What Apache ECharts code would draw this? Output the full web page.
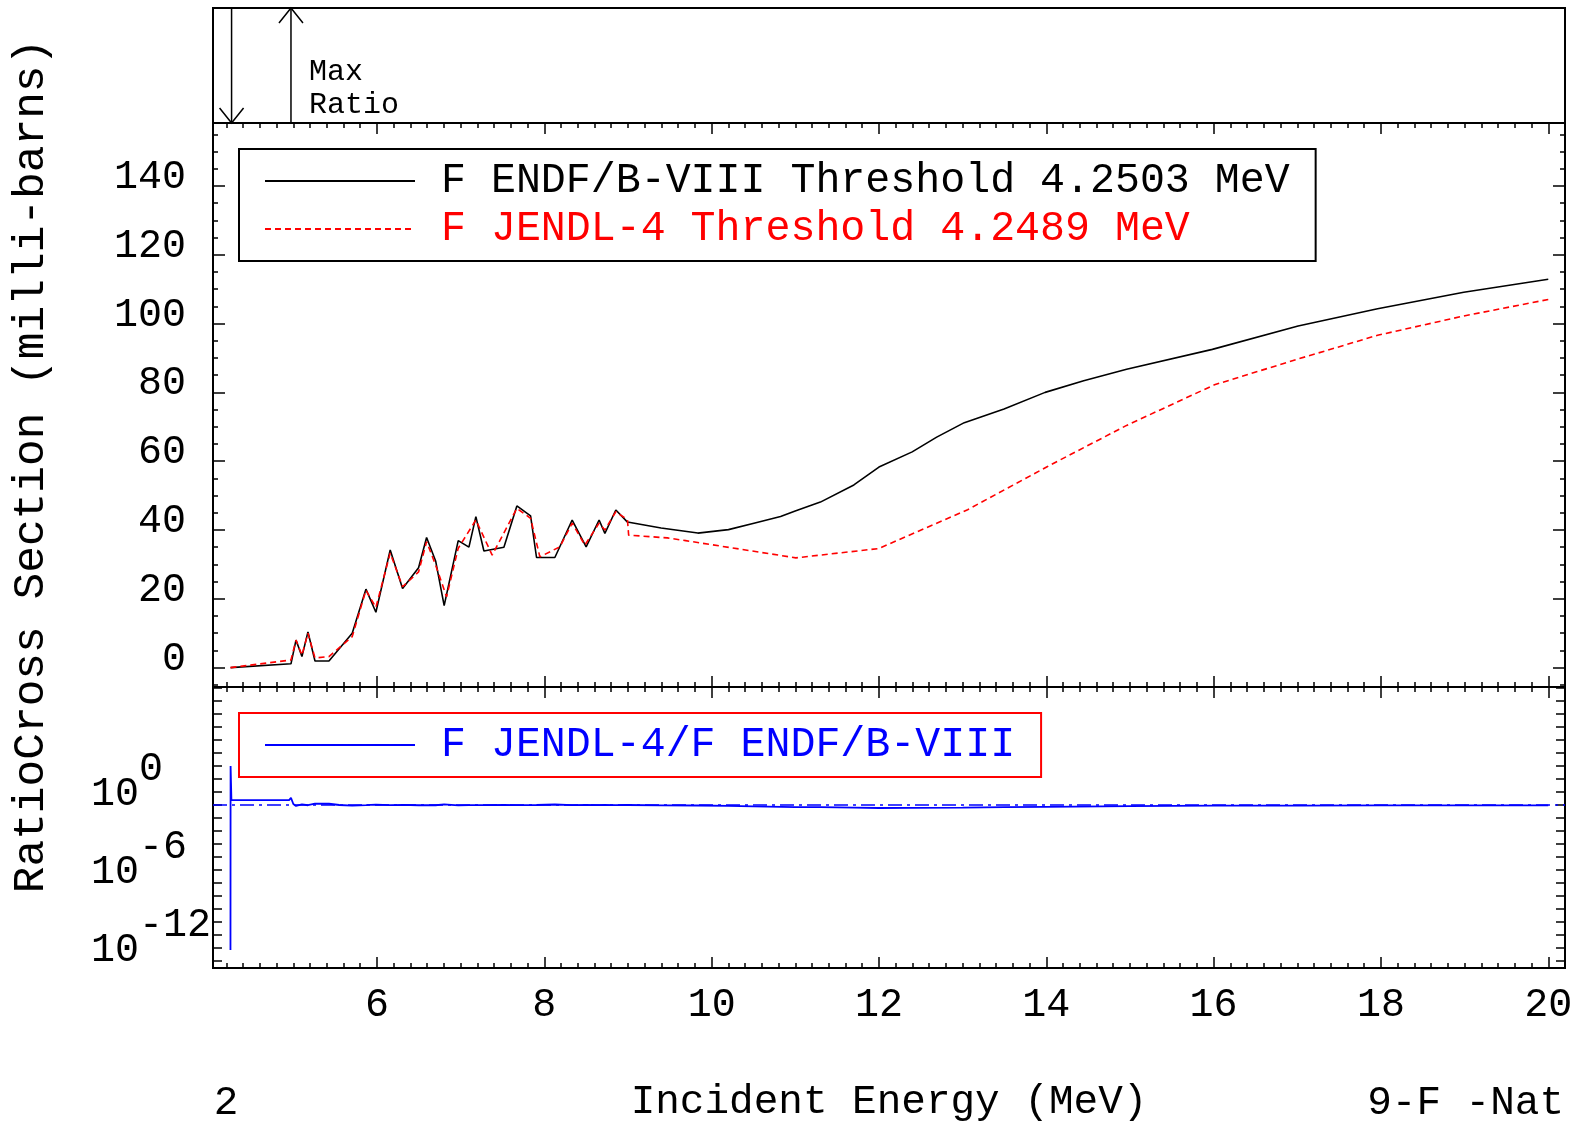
<!DOCTYPE html>
<html><head><meta charset="utf-8">
<script src="https://cdn.jsdelivr.net/npm/echarts@6/dist/echarts.min.js"></script>
<style>html,body{margin:0;padding:0;background:#fff}#c{width:1579px;height:1128px}</style>
</head><body><div id="c"></div>
<script>
// ---- data ----
const endfName = 'F ENDF/B-VIII Threshold 4.2503 MeV';
const jendlName = 'F JENDL-4 Threshold 4.2489 MeV';
const ratioName = 'F JENDL-4/F ENDF/B-VIII';

const endfE = [4.2503, 4.972, 5.032, 5.103, 5.175, 5.259, 5.426, 5.704, 5.868, 5.987, 6.158, 6.306, 6.497, 6.593, 6.701, 6.803, 6.971, 7.099, 7.182, 7.278, 7.517, 7.672, 7.836, 7.907, 8.126, 8.333, 8.5, 8.655, 8.724, 8.855, 8.994, 9.396, 9.835, 10.201, 10.494, 10.824, 11.007, 11.3, 11.7, 12.0, 12.397, 12.69, 13.02, 13.495, 13.986, 14.447, 14.96, 15.985, 17.01, 17.96, 18.99, 20.0];
const endfXS = [0, 1.1, 8.0, 3.2, 10.4, 1.9, 1.9, 10.0, 22.8, 16.1, 34.2, 23.0, 29.0, 37.8, 31.0, 18.0, 36.9, 35.0, 43.9, 33.9, 35.0, 47.0, 44.1, 32.0, 32.0, 42.9, 35.1, 42.9, 39.0, 45.8, 42.3, 40.6, 39.1, 40.1, 41.9, 43.9, 45.6, 48.1, 53.1, 58.3, 62.7, 67.0, 71.2, 75.2, 80.0, 83.4, 86.7, 92.5, 99.3, 104.3, 109.1, 112.9];

const jendlE = [4.2489, 4.972, 5.032, 5.103, 5.175, 5.259, 5.426, 5.704, 5.868, 5.987, 6.158, 6.306, 6.497, 6.593, 6.701, 6.832, 6.971, 7.182, 7.377, 7.672, 7.836, 7.947, 8.186, 8.333, 8.485, 8.655, 8.724, 8.855, 8.994, 9.008, 9.47, 9.69, 11.007, 11.995, 13.06, 14.01, 14.96, 16.01, 17.01, 17.96, 18.99, 20.0];
const jendlXS = [0, 2.2, 8.0, 3.6, 10.0, 2.8, 3.2, 9.0, 22.5, 17.5, 33.3, 23.5, 27.8, 36.6, 29.8, 20.6, 34.7, 42.9, 32.7, 46.3, 43.4, 32.2, 35.1, 42.0, 35.6, 42.0, 40.0, 45.3, 43.0, 38.5, 37.7, 36.9, 31.9, 34.6, 45.9, 58.4, 70.4, 82.2, 89.7, 96.6, 102.2, 107.0];

const ratioE = [4.2489, 4.2503, 4.26, 4.95, 4.972, 5.0, 5.032, 5.103, 5.175, 5.259, 5.426, 5.55, 5.704, 5.868, 5.987, 6.158, 6.306, 6.497, 6.593, 6.701, 6.803, 6.971, 7.099, 7.182, 7.278, 7.517, 7.672, 7.836, 7.907, 8.126, 8.333, 8.5, 8.655, 8.724, 8.855, 8.994, 9.008, 9.4, 9.835, 10.2, 10.5, 11.0, 11.3, 11.7, 12.0, 12.4, 13.0, 13.5, 14.0, 15.0, 16.0, 17.0, 18.0, 19.0, 20.0];
const ratioVal = [7e-12, 1000, 2.4, 2.4, 3.6, 1.2, 0.85, 1.1, 0.96, 1.3, 1.25, 1.0, 0.9, 0.99, 1.09, 0.97, 1.02, 0.96, 0.97, 0.96, 1.14, 0.94, 0.97, 0.98, 0.97, 1.0, 0.98, 0.98, 1.0, 1.1, 0.98, 1.0, 0.98, 1.02, 0.99, 1.0, 0.9, 0.93, 0.92, 0.85, 0.78, 0.7, 0.68, 0.63, 0.59, 0.6, 0.64, 0.68, 0.73, 0.81, 0.89, 0.9, 0.93, 0.94, 0.95];

// Max-ratio panel arrows: energy and direction (-1 down, +1 up)
const arrowE = [4.262, 4.972];
const arrowDir = [-1, 1];

// axis ranges
const xMin = 4.04, xMax = 20.2;
const yMin = -5.64, yMax = 158.3;
const rLogMin = -12.54, rLogMax = 9.08;

// ---- chart ----
const FONT = 'Liberation Mono';
const BLACK = '#000000', RED = '#ff0000', BLUE = '#0000ff';
const pair = (a, b) => a.map((v, i) => [v, b[i]]);

function xAx(grid, pos, labels, extra) {
  return Object.assign({
    type: 'value', gridIndex: grid, position: pos, min: xMin, max: xMax, splitNumber: 8,
    splitLine: { show: false },
    axisLine: { show: true, onZero: false, lineStyle: { color: BLACK, width: 2 } },
    axisTick: { show: true, inside: true, length: 11, lineStyle: { color: BLACK, width: 1.5 } },
    minorTick: { show: true, splitNumber: 10, length: 5, lineStyle: { color: BLACK, width: 1.5 } },
    axisLabel: {
      show: labels, margin: 17, fontSize: 40, color: BLACK, fontFamily: FONT,
      formatter: v => (Math.abs(v / 2 - Math.round(v / 2)) < 1e-9 ? String(Math.round(v)) : '')
    }
  }, extra || {});
}
function yMain(pos, labels) {
  return {
    type: 'value', gridIndex: 1, position: pos, min: yMin, max: yMax, splitNumber: 8,
    splitLine: { show: false },
    axisLine: { show: true, onZero: false, lineStyle: { color: BLACK, width: 2 } },
    axisTick: { show: true, inside: true, length: 12, lineStyle: { color: BLACK, width: 1.5 } },
    minorTick: { show: true, splitNumber: 4, length: 5, lineStyle: { color: BLACK, width: 1.5 } },
    axisLabel: {
      show: labels, margin: 27, color: BLACK, fontFamily: FONT, fontSize: 40,
      formatter: v => (Math.abs(v / 20 - Math.round(v / 20)) < 1e-9 ? '{a|' + Math.round(v) + '}' : ''),
      rich: { a: { fontFamily: FONT, fontSize: 40, color: BLACK, padding: [0, 0, 17, 0] } }
    }
  };
}
function yRatio(pos, labels) {
  return {
    type: 'value', gridIndex: 2, position: pos, min: rLogMin, max: rLogMax, splitNumber: 22,
    splitLine: { show: false },
    axisLine: { show: true, onZero: false, lineStyle: { color: BLACK, width: 2 } },
    axisTick: { show: true, inside: true, length: 9, lineStyle: { color: BLACK, width: 1.5 } },
    axisLabel: {
      show: labels, margin: 122, align: 'left', color: BLACK, fontFamily: FONT, fontSize: 40,
      formatter: v => {
        const k = Math.round(v);
        if (Math.abs(v - k) > 1e-9 || k % 6 !== 0 || k > 0) return '';
        return '{b|10}{s|' + (k === 0 ? '0' : String(k)) + '}';
      },
      rich: {
        b: { fontFamily: FONT, fontSize: 40, color: BLACK, padding: [0, 0, 22, 0] },
        s: { fontFamily: FONT, fontSize: 40, color: BLACK, padding: [0, 0, 72, 0] }
      }
    }
  };
}

const chart = echarts.init(document.getElementById('c'), null, { renderer: 'canvas' });
chart.setOption({
  animation: false,
  backgroundColor: '#ffffff',
  textStyle: { fontFamily: FONT },
  grid: [
    { left: 213, right: 14, top: 8, height: 115, show: true, borderColor: BLACK, borderWidth: 2 },
    { left: 213, right: 14, top: 123, height: 564, show: true, borderColor: BLACK, borderWidth: 2 },
    { left: 213, right: 14, top: 687, height: 281, show: true, borderColor: BLACK, borderWidth: 2 }
  ],
  xAxis: [
    { type: 'value', gridIndex: 0, min: xMin, max: xMax, show: false },
    xAx(1, 'bottom', false),
    xAx(1, 'top', false),
    xAx(2, 'bottom', true, {
      name: 'Incident Energy (MeV)', nameLocation: 'middle', nameGap: 114,
      nameTextStyle: { fontFamily: FONT, fontSize: 41, color: BLACK }
    }),
    xAx(2, 'top', false)
  ],
  yAxis: [
    { type: 'value', gridIndex: 0, min: 0, max: 1, show: false },
    yMain('left', true),
    yMain('right', false),
    yRatio('left', true),
    yRatio('right', false)
  ],
  legend: [
    {
      orient: 'vertical', left: 239, top: 149, itemWidth: 150, itemHeight: 14, itemGap: 2,
      padding: [9, 26, 9, 25], borderColor: BLACK, borderWidth: 2, backgroundColor: '#fff',
      selectedMode: false, itemStyle: { opacity: 0 },
      textStyle: { fontFamily: FONT, fontSize: 41.6, lineHeight: 46, padding: [0, 0, 0, 21] },
      data: [
        { name: endfName, textStyle: { color: BLACK } },
        { name: jendlName, textStyle: { color: RED } }
      ]
    },
    {
      orient: 'vertical', left: 239, top: 713, itemWidth: 150, itemHeight: 14,
      padding: [9, 26, 9, 25], borderColor: RED, borderWidth: 2, backgroundColor: '#fff',
      selectedMode: false, itemStyle: { opacity: 0 },
      textStyle: { fontFamily: FONT, fontSize: 41.6, lineHeight: 46, padding: [0, 0, 0, 21], color: BLUE },
      data: [{ name: ratioName, textStyle: { color: BLUE } }]
    }
  ],
  series: [
    {
      type: 'custom', name: 'maxratio', xAxisIndex: 0, yAxisIndex: 0, silent: true,
      data: pair(arrowE, arrowDir),
      renderItem: (params, api) => {
        const e = api.value(0), dir = api.value(1);
        const top = api.coord([e, 1]), bot = api.coord([e, 0]);
        const x = top[0];
        const tip = dir > 0 ? top[1] : bot[1];
        const s = dir > 0 ? 1 : -1;
        return {
          type: 'group', children: [
            { type: 'line', shape: { x1: x, y1: top[1], x2: x, y2: bot[1] }, style: { stroke: BLACK, lineWidth: 1.5 } },
            { type: 'polyline', shape: { points: [[x - 12, tip + s * 15], [x, tip], [x + 12, tip + s * 15]] }, style: { stroke: BLACK, fill: null, lineWidth: 1.5 } }
          ]
        };
      }
    },
    {
      type: 'line', name: endfName, xAxisIndex: 1, yAxisIndex: 1, symbol: 'none', silent: true,
      color: BLACK, lineStyle: { color: BLACK, width: 1.6 }, data: pair(endfE, endfXS), z: 3
    },
    {
      type: 'line', name: jendlName, xAxisIndex: 1, yAxisIndex: 1, symbol: 'none', silent: true,
      color: RED, lineStyle: { color: RED, width: 1.6, type: [6, 4] }, data: pair(jendlE, jendlXS), z: 4
    },
    {
      type: 'line', name: ratioName, xAxisIndex: 3, yAxisIndex: 3, symbol: 'none', silent: true,
      color: BLUE, lineStyle: { color: BLUE, width: 1.8 },
      data: ratioE.map((e, i) => [e, Math.log10(ratioVal[i])]),
      markLine: {
        silent: true, symbol: ['none', 'none'], label: { show: false },
        lineStyle: { color: BLUE, width: 1.6, type: [14, 5, 3, 5] },
        data: [{ yAxis: 0 }]
      }
    }
  ],
  graphic: [
    { type: 'text', left: 309, top: 56, style: { text: 'Max\nRatio', font: '30px "Liberation Mono"', lineHeight: 33, fill: BLACK } },
    { type: 'text', x: 31, y: 466, rotation: Math.PI / 2, style: { text: 'RatioCross Section (milli-barns)', font: '44.5px "Liberation Mono"', fill: BLACK, align: 'center', verticalAlign: 'middle' } },
    { type: 'text', x: 226, y: 1103, style: { text: '2', font: '41px "Liberation Mono"', fill: BLACK, align: 'center', verticalAlign: 'middle' } },
    { type: 'text', x: 1564, y: 1103, style: { text: '9-F -Nat', font: '41px "Liberation Mono"', fill: BLACK, align: 'right', verticalAlign: 'middle' } }
  ]
});
</script>
</body></html>
